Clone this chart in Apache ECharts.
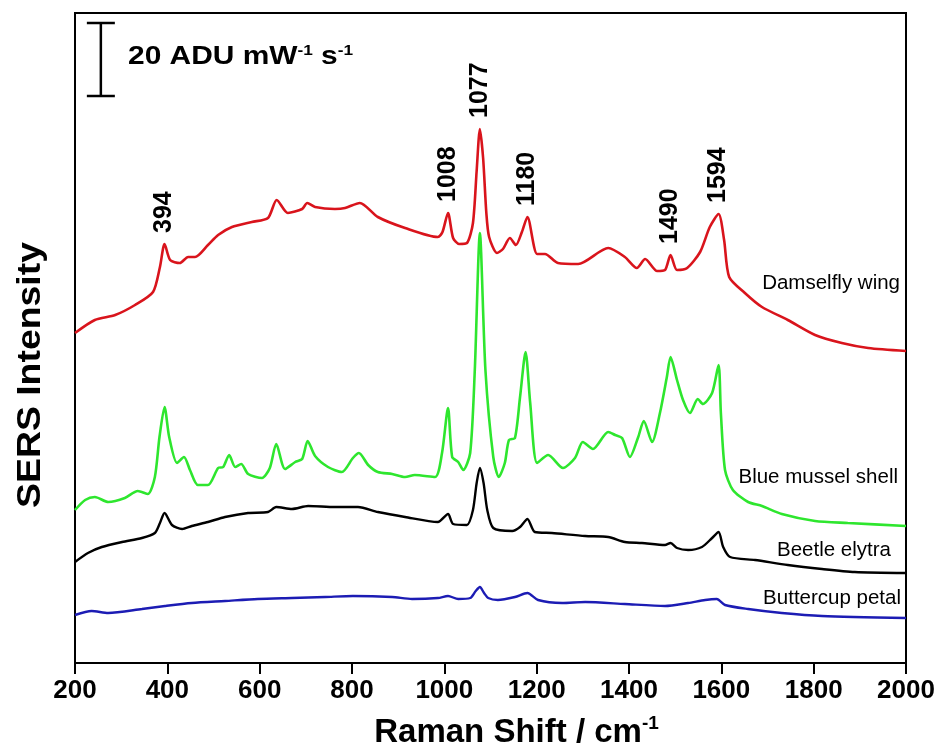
<!DOCTYPE html>
<html>
<head>
<meta charset="utf-8">
<script src="https://cdn.jsdelivr.net/npm/echarts@6/dist/echarts.min.js"></script>
<style>
  html, body { margin: 0; padding: 0; background: #fff; }
  #chart { width: 940px; height: 744px; }
</style>
</head>
<body>
<div id="chart"></div>
<script>
// SERS spectra of four natural surfaces, stacked with vertical offsets.
// Each point is [Raman shift (cm-1), intensity (offset counts)].
const xTickValues = [200, 400, 600, 800, 1000, 1200, 1400, 1600, 1800, 2000];

const damselflyWing = [
  [200,330],[243,343],[287,348],[330,358],[369,371],[384,396],[394,419],[406,403],
  [427,400],[445,406],[460,406],[488,418],[510,428],[540,436],[583,441],[618,445],
  [637,463],[661,450],[692,454],[703,460],[720,456],[763,454],[785,455],[817,460],
  [856,446],[915,435],[986,426],[996,431],[1008,450],[1019,425],[1032,419],[1049,420],
  [1062,440],[1070,492],[1077,534],[1084,505],[1091,450],[1097,426],[1114,410],[1127,414],
  [1142,425],[1155,418],[1168,431],[1180,446],[1201,409],[1218,409],[1246,400],[1290,399],
  [1355,415],[1391,406],[1417,395],[1435,404],[1461,392],[1478,393],[1490,408],[1504,393],
  [1526,395],[1554,411],[1575,436],[1594,449],[1606,423],[1617,386],[1651,370],[1688,356],
  [1744,343],[1803,328],[1861,320],[1918,315],[2000,312]
];

const blueMusselShell = [
  [200,153],[222,163],[243,166],[272,161],[308,165],[336,172],[358,169],[373,186],
  [383,226],[394,256],[404,226],[421,200],[436,206],[449,193],[466,178],[488,178],
  [510,195],[521,196],[534,208],[547,196],[560,199],[575,189],[605,185],[622,195],
  [636,219],[655,194],[677,201],[692,204],[704,222],[720,207],[748,196],[778,191],
  [802,205],[815,210],[835,198],[856,191],[887,189],[915,186],[936,188],[980,186],
  [995,210],[1008,255],[1017,206],[1030,201],[1041,193],[1056,210],[1066,293],[1077,430],
  [1089,293],[1106,206],[1118,186],[1131,200],[1140,223],[1153,225],[1164,266],[1176,311],
  [1186,260],[1201,200],[1225,208],[1257,195],[1283,205],[1300,221],[1322,214],[1355,231],
  [1370,228],[1385,225],[1402,206],[1420,226],[1432,242],[1450,221],[1467,250],[1482,286],
  [1490,306],[1504,283],[1517,263],[1532,250],[1549,264],[1560,259],[1580,270],[1594,298],
  [1599,250],[1608,193],[1625,173],[1658,161],[1688,157],[1731,149],[1803,142],[1874,140],
  [2000,137]
];

const beetleElytra = [
  [200,101],[228,110],[258,116],[302,121],[345,125],[373,130],[384,140],[394,150],
  [410,138],[432,134],[453,137],[488,141],[525,146],[575,150],[618,151],[636,156],
  [670,154],[705,157],[763,156],[813,156],[856,151],[915,146],[986,141],[1008,149],
  [1019,139],[1049,138],[1062,153],[1070,180],[1077,195],[1085,180],[1093,153],[1106,135],
  [1147,132],[1164,136],[1180,144],[1196,131],[1233,130],[1305,127],[1355,126],[1391,121],
  [1428,120],[1478,118],[1490,120],[1504,115],[1528,113],[1558,116],[1580,125],[1594,131],
  [1604,116],[1619,106],[1673,103],[1744,98],[1818,94],[1889,91],[2000,90]
];

const buttercupPetal = [
  [200,48],[236,52],[272,50],[345,54],[395,57],[453,60],[525,62],[596,64],
  [670,65],[742,66],[802,67],[887,66],[930,64],[986,65],[1008,67],[1030,64],
  [1056,65],[1068,72],[1077,76],[1086,70],[1095,65],[1116,63],[1153,66],[1180,70],
  [1203,63],[1255,60],[1305,61],[1391,59],[1478,57],[1528,60],[1565,63],[1590,64],
  [1608,58],[1658,54],[1731,50],[1818,47],[2000,45]
];

// Band positions annotated on the damselfly wing spectrum
const peakLabels = [394, 1008, 1077, 1180, 1490, 1594];

// Scale bar: 20 ADU mW-1 s-1 corresponds to 73 intensity counts
const scaleBarADU = 20;
const scaleBarCounts = 73;
const scaleBarX = 256;
const scaleBarBase = 567;

const FONT = '"Liberation Sans", Arial, Helvetica, sans-serif';

function valueAt(data, x) {
  const p = data.find(d => d[0] === x);
  return p ? p[1] : null;
}

const chart = echarts.init(document.getElementById('chart'), null, { renderer: 'canvas' });

const lineBase = {
  type: 'line',
  showSymbol: false,
  smooth: 0.25,
  animation: false,
  z: 3
};

chart.setOption({
  backgroundColor: '#fff',
  animation: false,
  grid: {
    left: 75, right: 34, top: 13, bottom: 81,
    outerBoundsMode: 'none',
    containLabel: false,
    show: true, borderColor: '#000', borderWidth: 2, backgroundColor: 'transparent'
  },
  xAxis: {
    type: 'value',
    min: 200, max: 2000, interval: 200,
    axisLine: { show: true, lineStyle: { color: '#000', width: 2 } },
    axisTick: { show: true, inside: false, length: 11, lineStyle: { color: '#000', width: 2 } },
    axisLabel: {
      show: true, margin: 15, color: '#000',
      fontFamily: FONT, fontWeight: 'bold', fontSize: 26,
      formatter: v => xTickValues.includes(v) ? String(v) : ''
    },
    splitLine: { show: false },
    name: 'Raman Shift / cm{sup|-1}',
    nameLocation: 'middle',
    nameGap: 51,
    nameTextStyle: {
      color: '#000', fontFamily: FONT, fontWeight: 'bold', fontSize: 33,
      padding: [0, 0, 0, 52],
      rich: {
        sup: { fontFamily: FONT, fontWeight: 'bold', fontSize: 19, color: '#000', padding: [0, 0, 18, 0] }
      }
    }
  },
  yAxis: {
    type: 'value',
    min: 0, max: 650,
    axisLine: { show: true, lineStyle: { color: '#000', width: 2 } },
    axisTick: { show: false },
    axisLabel: { show: false },
    splitLine: { show: false }
  },
  graphic: [
    {
      type: 'text', x: 31, y: 375, rotation: Math.PI / 2, scaleX: 1.1,
      style: {
        text: 'SERS Intensity', fill: '#000',
        font: 'bold 34px ' + FONT,
        textAlign: 'center', textVerticalAlign: 'middle'
      }
    },
    {
      type: 'text', x: 128, y: 57, scaleX: 1.15,
      style: {
        text: '20 ADU mW{sup|-1} s{sup|-1}', fill: '#000',
        font: 'bold 26px ' + FONT,
        textAlign: 'left', textVerticalAlign: 'middle',
        rich: {
          sup: { font: 'bold 15px ' + FONT, fill: '#000', padding: [0, 0, 13, 0] }
        }
      }
    },
    { type: 'text', x: 900, y: 283, style: { text: 'Damselfly wing', fill: '#000', font: '20.5px ' + FONT, textAlign: 'right', textVerticalAlign: 'middle' } },
    { type: 'text', x: 898, y: 477, style: { text: 'Blue mussel shell', fill: '#000', font: '20.5px ' + FONT, textAlign: 'right', textVerticalAlign: 'middle' } },
    { type: 'text', x: 891, y: 550, style: { text: 'Beetle elytra', fill: '#000', font: '20.5px ' + FONT, textAlign: 'right', textVerticalAlign: 'middle' } },
    { type: 'text', x: 901, y: 598, style: { text: 'Buttercup petal', fill: '#000', font: '20.5px ' + FONT, textAlign: 'right', textVerticalAlign: 'middle' } }
  ],
  series: [
    Object.assign({}, lineBase, {
      name: 'Damselfly wing',
      data: damselflyWing,
      lineStyle: { color: '#d9141c', width: 2.6 },
      markPoint: {
        symbol: 'circle', symbolSize: 0,
        itemStyle: { color: 'transparent' },
        label: {
          show: true, position: 'top', distance: 11, rotate: 90,
          align: 'left', verticalAlign: 'middle',
          color: '#000', fontFamily: FONT, fontWeight: 'bold', fontSize: 25,
          formatter: p => String(p.value)
        },
        data: peakLabels.map(w => ({ coord: [w, valueAt(damselflyWing, w)], value: w }))
      }
    }),
    Object.assign({}, lineBase, {
      name: 'Blue mussel shell',
      data: blueMusselShell,
      lineStyle: { color: '#2ee62e', width: 2.6 }
    }),
    Object.assign({}, lineBase, {
      name: 'Beetle elytra',
      data: beetleElytra,
      lineStyle: { color: '#000000', width: 2.4 }
    }),
    Object.assign({}, lineBase, {
      name: 'Buttercup petal',
      data: buttercupPetal,
      lineStyle: { color: '#1c1cb4', width: 2.4 }
    }),
    {
      type: 'custom',
      name: 'scale bar',
      coordinateSystem: 'cartesian2d',
      data: [[scaleBarX, scaleBarBase]],
      silent: true,
      renderItem: (params, api) => {
        const top = api.coord([scaleBarX, scaleBarBase + scaleBarCounts]);
        const bot = api.coord([scaleBarX, scaleBarBase]);
        const half = 14;
        const s = { stroke: '#000', lineWidth: 2.5 };
        return {
          type: 'group',
          children: [
            { type: 'line', shape: { x1: top[0], y1: top[1], x2: bot[0], y2: bot[1] }, style: s },
            { type: 'line', shape: { x1: top[0] - half, y1: top[1], x2: top[0] + half, y2: top[1] }, style: s },
            { type: 'line', shape: { x1: bot[0] - half, y1: bot[1], x2: bot[0] + half, y2: bot[1] }, style: s }
          ]
        };
      }
    }
  ]
});
</script>
</body>
</html>
